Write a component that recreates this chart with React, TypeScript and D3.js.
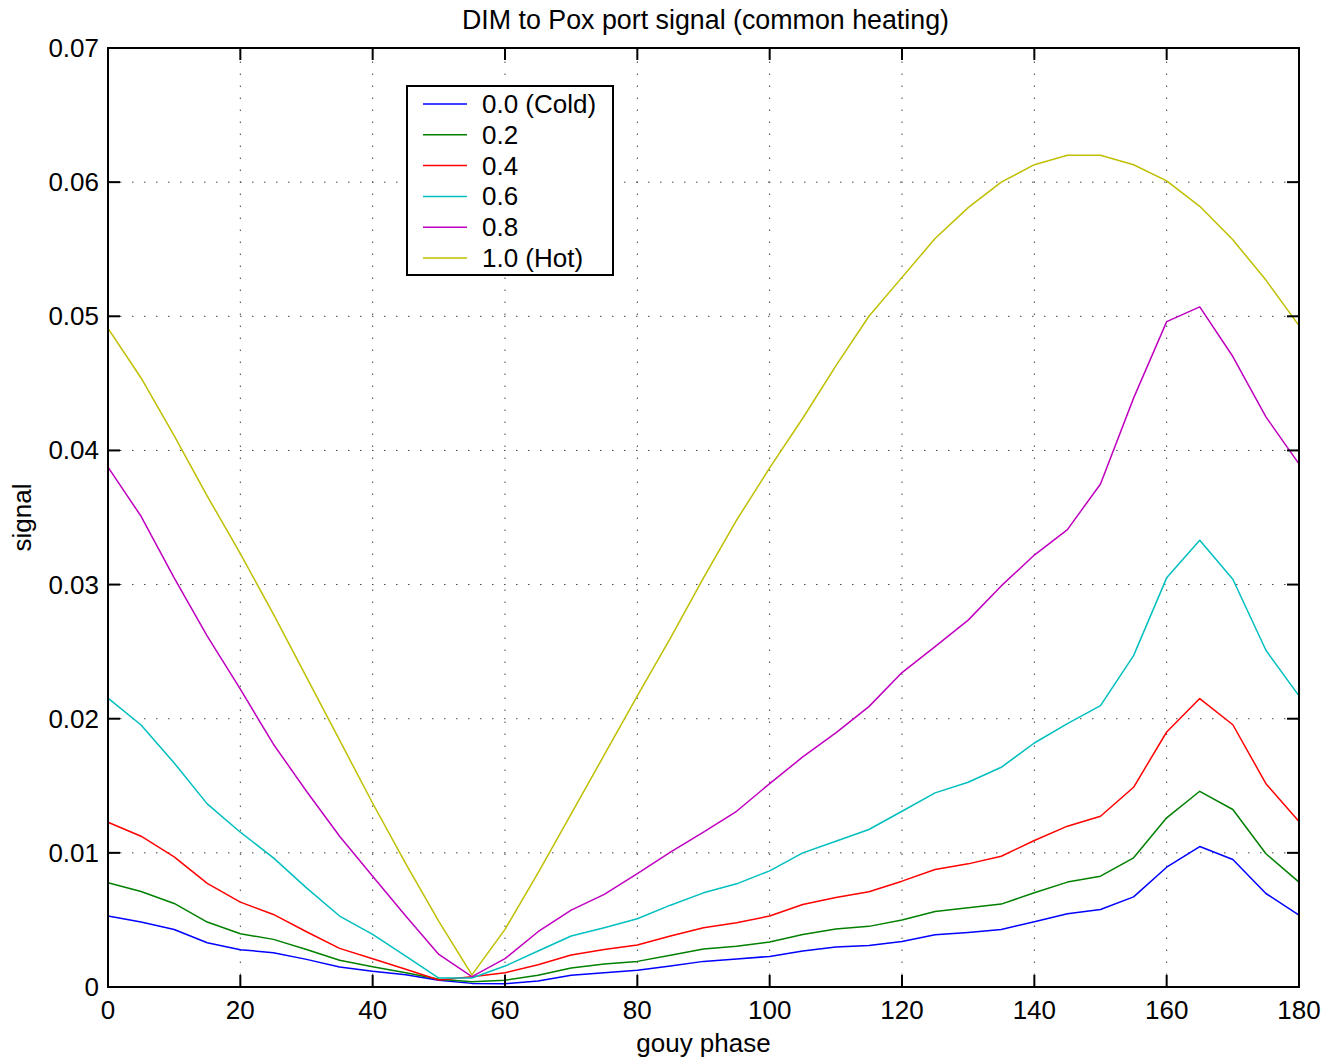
import React from "react";
import * as d3 from "d3";

const phases = d3.range(0, 181, 5);

const seriesNames = ["0.0 (Cold)", "0.2", "0.4", "0.6", "0.8", "1.0 (Hot)"];
const seriesColors = ["#0000ff", "#008000", "#ff0000", "#00bfbf", "#bf00bf", "#bfbf00"];

const cold00 = [0.00529, 0.00484, 0.00429, 0.0033, 0.00278, 0.00256, 0.00206, 0.00149, 0.00117, 0.00092, 0.0005, 0.00027, 0.00025, 0.00045, 0.00087, 0.00107, 0.00124, 0.00156, 0.00191, 0.00208, 0.00228, 0.00268, 0.00298, 0.0031, 0.0034, 0.0039, 0.00407, 0.00429, 0.00486, 0.00546, 0.00578, 0.00672, 0.00893, 0.01047, 0.0095, 0.00697, 0.00536];
const heat02 = [0.00777, 0.00712, 0.00623, 0.00484, 0.00397, 0.00355, 0.0028, 0.00199, 0.00151, 0.00107, 0.00057, 0.0004, 0.0005, 0.00087, 0.00141, 0.00171, 0.00191, 0.00236, 0.00283, 0.00303, 0.00335, 0.00392, 0.00432, 0.00452, 0.00499, 0.00563, 0.00591, 0.00618, 0.00702, 0.00782, 0.00826, 0.00963, 0.01261, 0.01459, 0.01323, 0.00993, 0.00782];
const heat04 = [0.01228, 0.01124, 0.0097, 0.00772, 0.00633, 0.00541, 0.00412, 0.00288, 0.00211, 0.00132, 0.00052, 0.00077, 0.00107, 0.00166, 0.00238, 0.0028, 0.00313, 0.0038, 0.00442, 0.00479, 0.00529, 0.00615, 0.00667, 0.0071, 0.00789, 0.00876, 0.00918, 0.00975, 0.01092, 0.01199, 0.01273, 0.01489, 0.01901, 0.0215, 0.01955, 0.01516, 0.01233];
const heat06 = [0.02154, 0.01953, 0.0167, 0.01365, 0.01154, 0.00963, 0.00739, 0.00529, 0.00392, 0.00231, 0.00067, 0.00067, 0.00156, 0.00268, 0.0038, 0.00442, 0.00509, 0.0061, 0.00702, 0.00769, 0.00866, 0.01, 0.01087, 0.01174, 0.0131, 0.01447, 0.01526, 0.01638, 0.01819, 0.01963, 0.02097, 0.0247, 0.0305, 0.0333, 0.0304, 0.0251, 0.0217];
const heat08 = [0.03876, 0.03509, 0.0305, 0.02615, 0.0222, 0.0181, 0.01459, 0.01124, 0.00826, 0.00529, 0.00243, 0.00077, 0.00211, 0.00412, 0.00573, 0.0069, 0.00846, 0.01005, 0.01154, 0.0131, 0.01516, 0.01715, 0.01894, 0.0209, 0.02344, 0.02537, 0.02735, 0.0299, 0.0322, 0.0341, 0.0375, 0.0439, 0.0496, 0.0507, 0.047, 0.0425, 0.039];
const hot10 = [0.0491, 0.0454, 0.0411, 0.0366, 0.0323, 0.0278, 0.0231, 0.0184, 0.0137, 0.0092, 0.0049, 0.0009, 0.0043, 0.0085, 0.0129, 0.0173, 0.0217, 0.026, 0.0305, 0.0348, 0.0387, 0.0424, 0.0463, 0.05, 0.0529, 0.0558, 0.0581, 0.06, 0.0613, 0.062, 0.062, 0.0613, 0.0601, 0.0582, 0.0557, 0.0527, 0.0493];

const allSeries = [cold00, heat02, heat04, heat06, heat08, hot10];

const xTicks = [0, 20, 40, 60, 80, 100, 120, 140, 160, 180];
const yTicks = [0, 0.01, 0.02, 0.03, 0.04, 0.05, 0.06, 0.07];
const yTickLabels = ["0", "0.01", "0.02", "0.03", "0.04", "0.05", "0.06", "0.07"];

const W = 1327;
const H = 1061;
const M = { left: 108, right: 28, top: 48, bottom: 74 };
const FONT = "'Liberation Sans', Arial, Helvetica, sans-serif";

export default function App() {
  const x = d3.scaleLinear().domain([0, 180]).range([M.left, W - M.right]);
  const y = d3.scaleLinear().domain([0, 0.07]).range([H - M.bottom, M.top]);
  const line = d3
    .line<number>()
    .x((_, i) => x(phases[i]))
    .y((d) => y(d));

  const x0 = x(0), x1 = x(180), y0 = y(0), y1 = y(0.07);
  const tickLen = 12;

  return (
    <svg
      width={W}
      height={H}
      style={{ position: "absolute", left: 0, top: 0, background: "#fff" }}
      fontFamily={FONT}
    >
      <rect x={0} y={0} width={W} height={H} fill="#fff" />
      {/* grid */}
      <g stroke="#444" strokeWidth={1} strokeDasharray="1.5,10.5">
        {xTicks.slice(1, -1).map((t) => (
          <line key={"gx" + t} x1={x(t)} x2={x(t)} y1={y0} y2={y1} />
        ))}
        {yTicks.slice(1, -1).map((t) => (
          <line key={"gy" + t} x1={x0} x2={x1} y1={y(t)} y2={y(t)} />
        ))}
      </g>
      {/* series */}
      <g fill="none" strokeWidth={1.5} strokeLinejoin="round">
        {allSeries.map((s, i) => (
          <path key={i} d={line(s) || ""} stroke={seriesColors[i]} />
        ))}
      </g>
      {/* axes box and ticks */}
      <g stroke="#000" strokeWidth={2}>
        <rect x={x0} y={y1} width={x1 - x0} height={y0 - y1} fill="none" />
        {xTicks.map((t) => (
          <g key={"tx" + t}>
            <line x1={x(t)} x2={x(t)} y1={y0} y2={y0 - tickLen} />
            <line x1={x(t)} x2={x(t)} y1={y1} y2={y1 + tickLen} />
          </g>
        ))}
        {yTicks.map((t) => (
          <g key={"ty" + t}>
            <line x1={x0} x2={x0 + tickLen} y1={y(t)} y2={y(t)} />
            <line x1={x1} x2={x1 - tickLen} y1={y(t)} y2={y(t)} />
          </g>
        ))}
      </g>
      {/* tick labels */}
      <g fontSize={26} fill="#000">
        {xTicks.map((t) => (
          <text key={"lx" + t} x={x(t)} y={y0 + 32} textAnchor="middle">
            {String(t)}
          </text>
        ))}
        {yTicks.map((t, i) => (
          <text key={"ly" + t} x={x0 - 9} y={y(t) + 9} textAnchor="end">
            {yTickLabels[i]}
          </text>
        ))}
      </g>
      {/* titles */}
      <text x={(x0 + x1) / 2 + 2} y={29} textAnchor="middle" fontSize={26.8}>
        DIM to Pox port signal (common heating)
      </text>
      <text x={(x0 + x1) / 2} y={1052} textAnchor="middle" fontSize={26}>
        gouy phase
      </text>
      <text
        transform={`translate(31, ${(y0 + y1) / 2}) rotate(-90)`}
        textAnchor="middle"
        fontSize={26}
      >
        signal
      </text>
      {/* legend */}
      <g>
        <rect x={407} y={86} width={206} height={189} fill="#fff" stroke="#000" strokeWidth={2} />
        {seriesNames.map((n, i) => {
          const ly = 104 + i * 30.8;
          return (
            <g key={n}>
              <line x1={423} x2={467} y1={ly} y2={ly} stroke={seriesColors[i]} strokeWidth={1.5} />
              <text x={482} y={ly + 9} fontSize={26}>
                {n}
              </text>
            </g>
          );
        })}
      </g>
    </svg>
  );
}
